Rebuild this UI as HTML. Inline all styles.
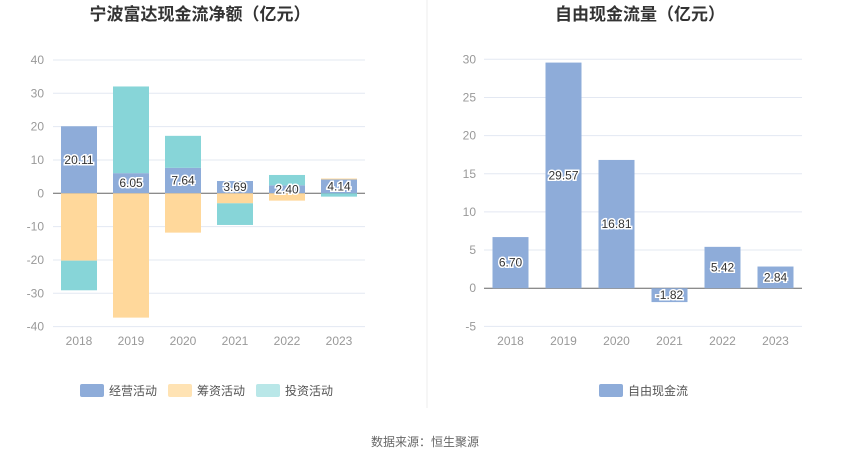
<!DOCTYPE html>
<html><head><meta charset="utf-8"><style>
body{margin:0;background:#fff;font-family:"Liberation Sans","Noto Sans CJK SC",sans-serif;}
svg text{font-family:"Liberation Sans","Noto Sans CJK SC",sans-serif;}
</style></head><body>
<svg id="c" width="850" height="458" xmlns="http://www.w3.org/2000/svg">
<rect width="850" height="458" fill="#fff"/>
<line x1="427" y1="0" x2="427" y2="408" stroke="#eeeeee"/>
<text x="200" y="20" text-anchor="middle" font-size="17" font-weight="bold" fill="#333">宁波富达现金流净额（亿元）</text>
<text x="640" y="20" text-anchor="middle" font-size="17" font-weight="bold" fill="#333">自由现金流量（亿元）</text>
<g id="L"></g><g id="R"></g>
<rect x="80" y="384" width="24" height="13" rx="2" fill="#8eacd9"/>
<text x="109" y="395" font-size="12" fill="#555">经营活动</text>
<rect x="168" y="384" width="24" height="13" rx="2" fill="#ffe3b4"/>
<text x="197" y="395" font-size="12" fill="#555">筹资活动</text>
<rect x="256" y="384" width="24" height="13" rx="2" fill="#b9e7e8"/>
<text x="285" y="395" font-size="12" fill="#555">投资活动</text>
<rect x="599" y="384" width="24" height="13" rx="2" fill="#8eacd9"/>
<text x="628" y="395" font-size="12" fill="#555">自由现金流</text>
<text x="425" y="446" text-anchor="middle" font-size="12" fill="#666">数据来源：恒生聚源</text>
</svg>
<script>
const years=["2018","2019","2020","2021","2022","2023"];
const operating=[20.11,6.05,7.64,3.69,2.40,4.14];
const financing=[-20.2,-37.3,-11.8,-3.0,-2.2,0.3];
const investing=[-8.9,26.0,9.6,-6.5,3.1,-1.0];
const leftTicks=[40,30,20,10,0,-10,-20,-30,-40];
const fcf=[6.70,29.57,16.81,-1.82,5.42,2.84];
const rightTicks=[30,25,20,15,10,5,0,-5];
const NS="http://www.w3.org/2000/svg";
function mk(p,t,a){const e=document.createElementNS(NS,t);for(const k in a)e.setAttribute(k,a[k]);p.appendChild(e);return e;}
function lbl(g,x,y,s){const t=mk(g,'text',{x:x,y:y,'text-anchor':'middle','font-size':12,fill:'#333',stroke:'#fff','stroke-width':3,'paint-order':'stroke'});t.textContent=s;

}
// left
const L=document.getElementById('L');
const ly=v=>193.3-v*3.333; const lx0=53,lstep=52,bw=36;
leftTicks.forEach(v=>{const l=mk(L,'line',{x1:lx0,x2:365,y1:ly(v),y2:ly(v),stroke:v===0?'#666':'#e3e8f2'});


const t=mk(L,'text',{x:44,y:ly(v)+4,'text-anchor':'end','font-size':12,fill:'#999'});t.textContent=v;

});
years.forEach((yr,i)=>{const cx=lx0+lstep*(i+0.5);let pos=0,neg=0;
[[operating[i],'#8eacd9','operating'],[financing[i],'#ffd89b','financing'],[investing[i],'#87d5d8','investing']].forEach(([v,c,n])=>{
let a,b;if(v>=0){a=pos;b=pos+v;pos=b;}else{a=neg;b=neg+v;neg=b;}
const r=mk(L,'rect',{x:cx-bw/2,y:Math.min(ly(a),ly(b)),width:bw,height:Math.abs(ly(a)-ly(b)),fill:c});

});
lbl(L,cx,ly(operating[i]/2)+4,operating[i].toFixed(2));
const t=mk(L,'text',{x:cx,y:345,'text-anchor':'middle','font-size':12,fill:'#999'});t.textContent=yr;

});
// right
const R=document.getElementById('R');
const ry=v=>288.2-v*7.63; const rx0=484,rstep=53;
rightTicks.forEach(v=>{const l=mk(R,'line',{x1:rx0,x2:802,y1:ry(v),y2:ry(v),stroke:v===0?'#666':'#e3e8f2'});


const t=mk(R,'text',{x:476,y:ry(v)+4,'text-anchor':'end','font-size':12,fill:'#999'});t.textContent=v;

});
years.forEach((yr,i)=>{const cx=rx0+rstep*(i+0.5);const v=fcf[i];
const r=mk(R,'rect',{x:cx-bw/2,y:Math.min(ry(0),ry(v)),width:bw,height:Math.abs(ry(v)-ry(0)),fill:'#8eacd9'});


lbl(R,cx,ry(v/2)+4,v.toFixed(2));
const t=mk(R,'text',{x:cx,y:345,'text-anchor':'middle','font-size':12,fill:'#999'});t.textContent=yr;

});
</script>
</body></html>
